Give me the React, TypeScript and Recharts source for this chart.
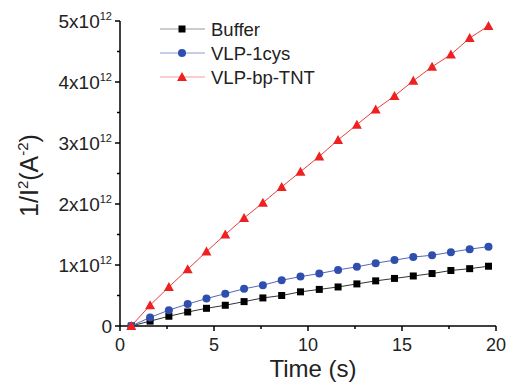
import { LineChart, Line, XAxis, YAxis, Legend } from "recharts";

// values in units of 1e12 A^-2
const time = [0.6, 1.6, 2.6, 3.6, 4.6, 5.6, 6.6, 7.6, 8.6, 9.6, 10.6, 11.6, 12.6, 13.6, 14.6, 15.6, 16.6, 17.6, 18.6, 19.6];
const buffer = [0, 0.08, 0.16, 0.23, 0.29, 0.34, 0.4, 0.46, 0.5, 0.56, 0.6, 0.64, 0.69, 0.74, 0.78, 0.82, 0.86, 0.91, 0.94, 0.98];
const vlp1cys = [0, 0.14, 0.26, 0.36, 0.45, 0.53, 0.61, 0.67, 0.75, 0.81, 0.86, 0.92, 0.97, 1.03, 1.08, 1.13, 1.16, 1.21, 1.26, 1.3];
const vlpTnt = [0, 0.34, 0.64, 0.93, 1.22, 1.5, 1.77, 2.02, 2.28, 2.53, 2.78, 3.05, 3.3, 3.55, 3.77, 4.02, 4.25, 4.45, 4.72, 4.92];

const xTicks = [0, 2.5, 5, 7.5, 10, 12.5, 15, 17.5, 20];
const yTicks = [0, 0.5, 1, 1.5, 2, 2.5, 3, 3.5, 4, 4.5, 5];

const FONT = "'Liberation Sans', Arial, sans-serif";

const series = [
  { key: "buffer", name: "Buffer", line: "#333333", legendLine: "#999999", mark: "#000000", shape: "square" },
  { key: "vlp1cys", name: "VLP-1cys", line: "#5566bb", legendLine: "#8d9ad6", mark: "#2f4fae", shape: "circle" },
  { key: "vlpTnt", name: "VLP-bp-TNT", line: "#f03a3a", legendLine: "#f59a9a", mark: "#ee2020", shape: "triangle" },
];

const data = time.map((t, i) => ({
  t,
  buffer: buffer[i],
  vlp1cys: vlp1cys[i],
  vlpTnt: vlpTnt[i],
}));

function Marker({ shape, cx, cy, color }: { shape: string; cx: number; cy: number; color: string }) {
  if (shape === "square") return <rect x={cx - 3.5} y={cy - 3.5} width={7} height={7} fill={color} />;
  if (shape === "circle") return <circle cx={cx} cy={cy} r={4} fill={color} />;
  return <path d={`M${cx},${cy - 5} L${cx + 5},${cy + 4} L${cx - 5},${cy + 4} Z`} fill={color} />;
}

const YTick = (props: any) => {
  const { x, y, payload } = props;
  const v = payload.value;
  const major = Number.isInteger(v);
  const ax = x + 8;
  return (
    <g>
      <line x1={ax - (major ? 5 : 3)} x2={ax} y1={y} y2={y} stroke="#000" strokeWidth={1.5} />
      {major && (
        <text x={x} y={y} dy="0.36em" textAnchor="end" fontSize={19} fontFamily={FONT} fill="#222">
          {v === 0 ? "0" : `${v}x10`}
          {v !== 0 && (
            <tspan dy={-8} fontSize={11}>
              12
            </tspan>
          )}
        </text>
      )}
    </g>
  );
};

const XTick = (props: any) => {
  const { x, y, payload } = props;
  const v = payload.value;
  const major = v % 5 === 0;
  const ay = y - 12;
  return (
    <g>
      <line x1={x} x2={x} y1={ay} y2={ay + (major ? 5 : 3)} stroke="#000" strokeWidth={1.5} />
      {major && (
        <text x={x} y={y} dy="0.71em" textAnchor="middle" fontSize={18} fontFamily={FONT} fill="#222">
          {v}
        </text>
      )}
    </g>
  );
};

const LegendBox = () => (
  <svg width={200} height={80}>
    {series.map((s, i) => {
      const cy = 12 + i * 24;
      return (
        <g key={s.key}>
          <line x1={5} x2={50} y1={cy} y2={cy} stroke={s.legendLine} strokeWidth={1} />
          <Marker shape={s.shape} cx={27} cy={cy} color={s.mark} />
          <text x={56} y={cy} dy="0.36em" fontSize={18.5} fontFamily={FONT} fill="#222">
            {s.name}
          </text>
        </g>
      );
    })}
  </svg>
);

export default function App() {
  return (
    <div style={{ position: "absolute", left: 0, top: 0, background: "#fff" }}>
      <LineChart width={509} height={383} data={data} margin={{ top: 21, right: 13, bottom: 0, left: 0 }}>
        <XAxis
          dataKey="t"
          type="number"
          domain={[0, 20]}
          ticks={xTicks}
          interval={0}
          height={57}
          tickSize={5}
          tickMargin={7}
          tickLine={false}
          tick={<XTick />}
          axisLine={{ stroke: "#000", strokeWidth: 1.5 }}
          label={({ viewBox }: any) => (
            <text
              x={viewBox.x + viewBox.width / 2 + 5}
              y={viewBox.y + 51}
              textAnchor="middle"
              fontSize={24}
              fontFamily={FONT}
              fill="#222"
            >
              Time (s)
            </text>
          )}
        />
        <YAxis
          type="number"
          domain={[0, 5]}
          ticks={yTicks}
          interval={0}
          width={120}
          tickSize={5}
          tickMargin={3}
          tickLine={false}
          tick={<YTick />}
          axisLine={{ stroke: "#000", strokeWidth: 1.5 }}
          label={({ viewBox }: any) => {
            const cx = 38;
            const cy = viewBox.y + viewBox.height / 2 + 2;
            return (
              <text
                x={cx}
                y={cy}
                transform={`rotate(-90, ${cx}, ${cy})`}
                textAnchor="middle"
                fontSize={25}
                fontFamily={FONT}
                fill="#222"
              >
                1/I
                <tspan dy={-10} fontSize={15}>2</tspan>
                <tspan dy={10}>(A</tspan>
                <tspan dy={-10} fontSize={15}>-2</tspan>
                <tspan dy={10}>)</tspan>
              </text>
            );
          }}
        />
        <Legend
          layout="vertical"
          align="center"
          verticalAlign="middle"
          wrapperStyle={{ top: 17, left: 155, width: 200 }}
          content={() => <LegendBox />}
        />
        {series.map((s) => (
          <Line
            key={s.key}
            dataKey={s.key}
            name={s.name}
            type="linear"
            stroke={s.line}
            strokeWidth={1}
            isAnimationActive={false}
            dot={(p: any) => <Marker key={`${s.key}-${p.index}`} shape={s.shape} cx={p.cx} cy={p.cy} color={s.mark} />}
            activeDot={false}
          />
        ))}
      </LineChart>
    </div>
  );
}
